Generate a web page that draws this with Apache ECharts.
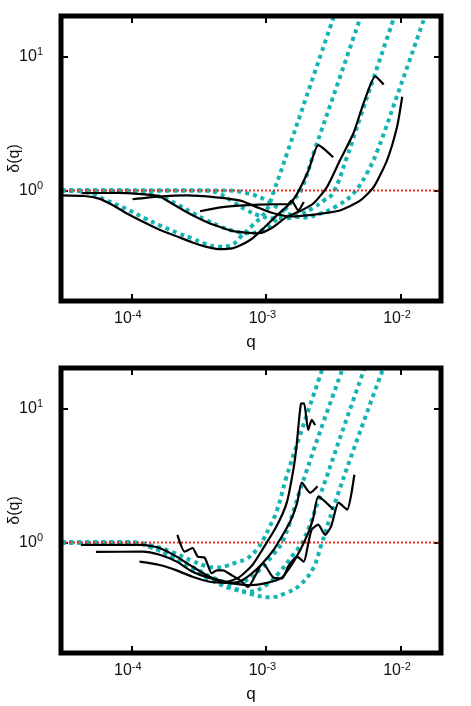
<!DOCTYPE html>
<html>
<head>
<meta charset="utf-8">
<script src="https://cdn.jsdelivr.net/npm/echarts@6/dist/echarts.min.js"></script>
<style>
  html, body { margin: 0; padding: 0; background: #fff; }
  #chart { width: 471px; height: 706px; }
</style>
</head>
<body>
<div id="chart"></div>
<script>
// axis ranges and tick labels (decades)
const qRange = [3e-5, 0.02];
const dRange = [0.15, 20];
const qTicks = [1e-4, 1e-3, 1e-2];
const dTicks = [1, 10];

// reference line delta = 1
const unity = [[3e-5, 1], [0.02, 1]];

// ---- top panel: model curves (cyan dotted), [q, delta]
const topModel1 = [[3.02e-5,1.0],[3.98e-5,0.99],[5.01e-5,0.95],[6.46e-5,0.85],[9.12e-5,0.73],[1.26e-4,0.62],[1.62e-4,0.55],[2.24e-4,0.48],[2.82e-4,0.44],[3.55e-4,0.40],[4.47e-4,0.38],[5.50e-4,0.39],[6.46e-4,0.45],[7.94e-4,0.55],[1.0e-3,0.70],[1.15e-3,1.0],[1.45e-3,1.95],[2.0e-3,5.0],[3.31e-3,22]];
const topModel2 = [[3.02e-5,1.0],[7.94e-5,1.0],[1.12e-4,0.98],[1.62e-4,0.90],[2.24e-4,0.78],[2.85e-4,0.68],[3.63e-4,0.60],[4.57e-4,0.54],[5.75e-4,0.50],[7.24e-4,0.48],[9.12e-4,0.50],[1.12e-3,0.57],[1.35e-3,0.70],[1.58e-3,0.84],[1.82e-3,1.0],[2.34e-3,2.1],[3.16e-3,5.0],[5.25e-3,22]];
const topModel3 = [[3.02e-5,1.0],[3.55e-4,1.0],[4.47e-4,0.95],[5.62e-4,0.83],[7.08e-4,0.72],[8.91e-4,0.65],[1.12e-3,0.62],[1.41e-3,0.62],[1.78e-3,0.66],[2.24e-3,0.74],[2.69e-3,0.84],[3.16e-3,0.96],[3.98e-3,1.75],[5.01e-3,3.5],[6.31e-3,6.9],[9.33e-3,22]];
const topModel4 = [[3.02e-5,1.0],[5.01e-4,1.0],[7.08e-4,0.96],[1.0e-3,0.85],[1.26e-3,0.73],[1.58e-3,0.65],[1.91e-3,0.63],[2.51e-3,0.67],[3.39e-3,0.77],[4.47e-3,0.95],[5.62e-3,1.34],[6.76e-3,2.0],[1.0e-2,6.0],[1.55e-2,21]];

// ---- top panel: measured curves (black)
const topData1 = [[3.02e-5,0.92],[4.47e-5,0.91],[5.75e-5,0.87],[7.24e-5,0.78],[9.12e-5,0.68],[1.20e-4,0.59],[1.62e-4,0.51],[2.24e-4,0.45],[2.85e-4,0.41],[3.63e-4,0.38],[4.57e-4,0.365],[5.62e-4,0.37],[6.46e-4,0.39],[7.94e-4,0.44],[9.55e-4,0.52],[1.20e-3,0.65],[1.51e-3,0.80],[1.70e-3,0.94],[2.07e-3,1.41],[2.45e-3,2.18],[3.16e-3,1.77]];
const topData2 = [[4.27e-5,0.955],[7.94e-5,0.96],[1.58e-4,0.91],[2.0e-4,0.80],[2.51e-4,0.70],[3.16e-4,0.62],[3.80e-4,0.57],[4.68e-4,0.53],[5.62e-4,0.50],[7.08e-4,0.485],[8.91e-4,0.48],[1.12e-3,0.53],[1.41e-3,0.63],[1.78e-3,0.70],[2.25e-3,0.80],[2.84e-3,1.06],[3.55e-3,1.68],[4.47e-3,2.67],[5.32e-3,4.48],[6.50e-3,7.1],[7.50e-3,6.16]];
const topData3 = [[1.02e-4,0.86],[1.58e-4,0.90],[2.57e-4,0.92],[4.27e-4,0.89],[6.46e-4,0.84],[8.91e-4,0.74],[1.12e-3,0.68],[1.51e-3,0.64],[1.91e-3,0.65],[2.51e-3,0.67],[3.55e-3,0.71],[5.01e-3,0.84],[6.31e-3,1.06],[7.94e-3,1.68],[9.44e-3,3.0],[1.03e-2,5.0]];
const topData4 = [[3.24e-4,0.70],[4.47e-4,0.745],[6.31e-4,0.77],[8.91e-4,0.785],[1.20e-3,0.79],[1.45e-3,0.79],[1.55e-3,0.84],[1.74e-3,0.71],[1.91e-3,0.82]];

// ---- bottom panel: model curves (cyan dotted)
const botModel1 = [[3.02e-5,1.0],[1.0e-4,1.0],[1.41e-4,0.95],[2.0e-4,0.85],[2.82e-4,0.73],[3.55e-4,0.67],[4.27e-4,0.65],[5.13e-4,0.67],[6.03e-4,0.71],[7.24e-4,0.76],[8.51e-4,0.88],[9.55e-4,1.05],[1.07e-3,1.32],[1.20e-3,1.7],[1.41e-3,3.0],[1.78e-3,6.2],[2.69e-3,21]];
const botModel2 = [[3.02e-5,1.0],[1.0e-4,1.0],[1.41e-4,0.93],[2.0e-4,0.80],[2.82e-4,0.66],[3.98e-4,0.55],[5.62e-4,0.50],[7.08e-4,0.52],[8.91e-4,0.62],[1.12e-3,0.80],[1.35e-3,1.05],[1.78e-3,2.4],[2.51e-3,6.6],[3.80e-3,21]];
const botModel3 = [[3.02e-5,1.0],[1.0e-4,1.0],[1.41e-4,0.92],[2.0e-4,0.78],[2.82e-4,0.63],[3.98e-4,0.52],[5.62e-4,0.45],[7.59e-4,0.43],[1.0e-3,0.48],[1.26e-3,0.60],[1.58e-3,0.80],[1.91e-3,1.05],[2.51e-3,2.2],[3.55e-3,6.0],[5.50e-3,21]];
const botModel4 = [[3.02e-5,1.0],[1.0e-4,1.0],[1.41e-4,0.92],[2.0e-4,0.78],[2.82e-4,0.64],[3.98e-4,0.53],[5.62e-4,0.46],[7.94e-4,0.41],[1.07e-3,0.39],[1.41e-3,0.42],[1.78e-3,0.48],[2.24e-3,0.64],[2.57e-3,0.95],[3.16e-3,1.8],[4.47e-3,4.9],[7.59e-3,21]];

// ---- bottom panel: measured curves (black)
const botData1 = [[4.22e-5,0.96],[7.94e-5,0.96],[1.21e-4,0.96],[1.62e-4,0.91],[2.17e-4,0.785],[2.85e-4,0.66],[3.82e-4,0.555],[5.12e-4,0.51],[6.31e-4,0.55],[7.94e-4,0.68],[9.51e-4,0.90],[1.20e-3,1.32],[1.43e-3,1.99],[1.60e-3,3.51],[1.69e-3,5.26],[1.82e-3,10.8],[1.92e-3,10.9],[2.06e-3,6.9],[2.19e-3,8.2],[2.32e-3,7.5]];
const botData2 = [[5.45e-5,0.85],[1.21e-4,0.855],[1.62e-4,0.81],[2.17e-4,0.72],[2.85e-4,0.605],[3.82e-4,0.543],[5.12e-4,0.50],[6.31e-4,0.51],[7.59e-4,0.57],[9.33e-4,0.69],[1.14e-3,0.88],[1.32e-3,1.12],[1.51e-3,1.42],[1.70e-3,1.95],[1.85e-3,2.8],[2.13e-3,2.35],[2.42e-3,2.63]];
const botData3 = [[1.15e-4,0.72],[1.62e-4,0.68],[2.17e-4,0.62],[2.85e-4,0.555],[3.82e-4,0.51],[5.12e-4,0.50],[7.59e-4,0.48],[1.02e-3,0.50],[1.32e-3,0.55],[1.55e-3,0.68],[1.78e-3,0.86],[2.04e-3,1.15],[2.24e-3,1.5],[2.45e-3,2.2],[3.16e-3,1.77]];
const botData4 = [[2.20e-4,1.14],[2.49e-4,0.855],[2.85e-4,0.91],[3.11e-4,0.785],[3.51e-4,0.77],[3.95e-4,0.59],[4.31e-4,0.62],[4.79e-4,0.62],[5.57e-4,0.57],[6.40e-4,0.525],[7.35e-4,0.465],[9.51e-4,0.70],[1.13e-3,0.55],[1.32e-3,0.54],[1.46e-3,0.66],[1.70e-3,0.785],[1.91e-3,0.72],[2.07e-3,1.0],[2.19e-3,1.25],[2.45e-3,1.36],[2.75e-3,1.14],[3.05e-3,1.32],[3.47e-3,1.98],[4.01e-3,1.76],[4.54e-3,3.2]];

const FONT = '"Liberation Sans Narrow", "Liberation Sans", Arial, sans-serif';
const CYAN = '#14b4b4';
const RED = '#ee2b1e';

function isTick(v, list) {
  return list.some(t => Math.abs(Math.log10(v) - Math.log10(t)) < 1e-6);
}
function powLabel(list) {
  return v => isTick(v, list) ? '10{s|' + Math.round(Math.log10(v)) + '}' : '';
}
const labelRich = {
  s: { fontSize: 11, fontFamily: FONT, color: '#111', verticalAlign: 'top', lineHeight: 12 }
};

const panelTops = [16, 368];
const grid = panelTops.map(t => ({
  left: 61, top: t, width: 380, height: 285,
  show: true, borderColor: '#000', borderWidth: 5,
  backgroundColor: 'transparent', z: 10,
  containLabel: false, outerBoundsMode: 'none'
}));

const tickStyle = { show: true, inside: true, length: 7, lineStyle: { color: '#000', width: 2 } };

const xAxis = [];
const yAxis = [];
panelTops.forEach((t, gi) => {
  xAxis.push({
    gridIndex: gi, type: 'log', logBase: 10, min: qRange[0], max: qRange[1], position: 'bottom',
    name: 'q', nameLocation: 'middle', nameGap: 33, nameMoveOverlap: false,
    nameTextStyle: { fontFamily: FONT, fontSize: 17, color: '#111' },
    axisLine: { show: false }, axisTick: tickStyle, splitLine: { show: false }, minorTick: { show: false },
    axisLabel: { margin: 8, fontFamily: FONT, fontSize: 16, color: '#111', lineHeight: 20,
      padding: [0, 7, 0, 0],
      formatter: powLabel(qTicks), rich: labelRich, showMinLabel: true, showMaxLabel: true }
  });
  xAxis.push({
    gridIndex: gi, type: 'log', logBase: 10, min: qRange[0], max: qRange[1], position: 'top',
    axisLine: { show: false }, axisTick: tickStyle, splitLine: { show: false }, axisLabel: { show: false }
  });
  yAxis.push({
    gridIndex: gi, type: 'log', logBase: 10, min: dRange[0], max: dRange[1], position: 'left',
    name: 'δ(q)', nameLocation: 'middle', nameGap: 38, nameMoveOverlap: false,
    nameTextStyle: { fontFamily: FONT, fontSize: 16, color: '#111' },
    axisLine: { show: false }, axisTick: tickStyle, splitLine: { show: false },
    axisLabel: { margin: 18, fontFamily: FONT, fontSize: 16, color: '#111', lineHeight: 20,
      formatter: powLabel(dTicks), rich: labelRich }
  });
  yAxis.push({
    gridIndex: gi, type: 'log', logBase: 10, min: dRange[0], max: dRange[1], position: 'right',
    axisLine: { show: false }, axisTick: tickStyle, splitLine: { show: false }, axisLabel: { show: false }
  });
});

function model(data, gi) {
  return {
    type: 'line', data: data, xAxisIndex: gi * 2, yAxisIndex: gi * 2,
    showSymbol: false, smooth: 0.4, clip: true, silent: true, z: 2,
    lineStyle: { color: CYAN, width: 4, type: [4, 4], cap: 'butt' }
  };
}
function measured(data, gi) {
  return {
    type: 'line', data: data, xAxisIndex: gi * 2, yAxisIndex: gi * 2,
    showSymbol: false, smooth: 0.2, clip: true, silent: true, z: 4,
    lineStyle: { color: '#000', width: 2.2 }
  };
}
function unityLine(gi) {
  return {
    type: 'line', data: unity, xAxisIndex: gi * 2, yAxisIndex: gi * 2,
    showSymbol: false, clip: true, silent: true, z: 3,
    lineStyle: { color: RED, width: 2, type: [2, 2] }
  };
}

const series = [
  model(topModel1, 0), model(topModel2, 0), model(topModel3, 0), model(topModel4, 0),
  unityLine(0),
  measured(topData1, 0), measured(topData2, 0), measured(topData3, 0), measured(topData4, 0),
  model(botModel1, 1), model(botModel2, 1), model(botModel3, 1), model(botModel4, 1),
  unityLine(1),
  measured(botData1, 1), measured(botData2, 1), measured(botData3, 1), measured(botData4, 1)
];

const chart = echarts.init(document.getElementById('chart'));
chart.setOption({
  animation: false,
  backgroundColor: '#fff',
  grid: grid,
  xAxis: xAxis,
  yAxis: yAxis,
  series: series
});
</script>
</body>
</html>
